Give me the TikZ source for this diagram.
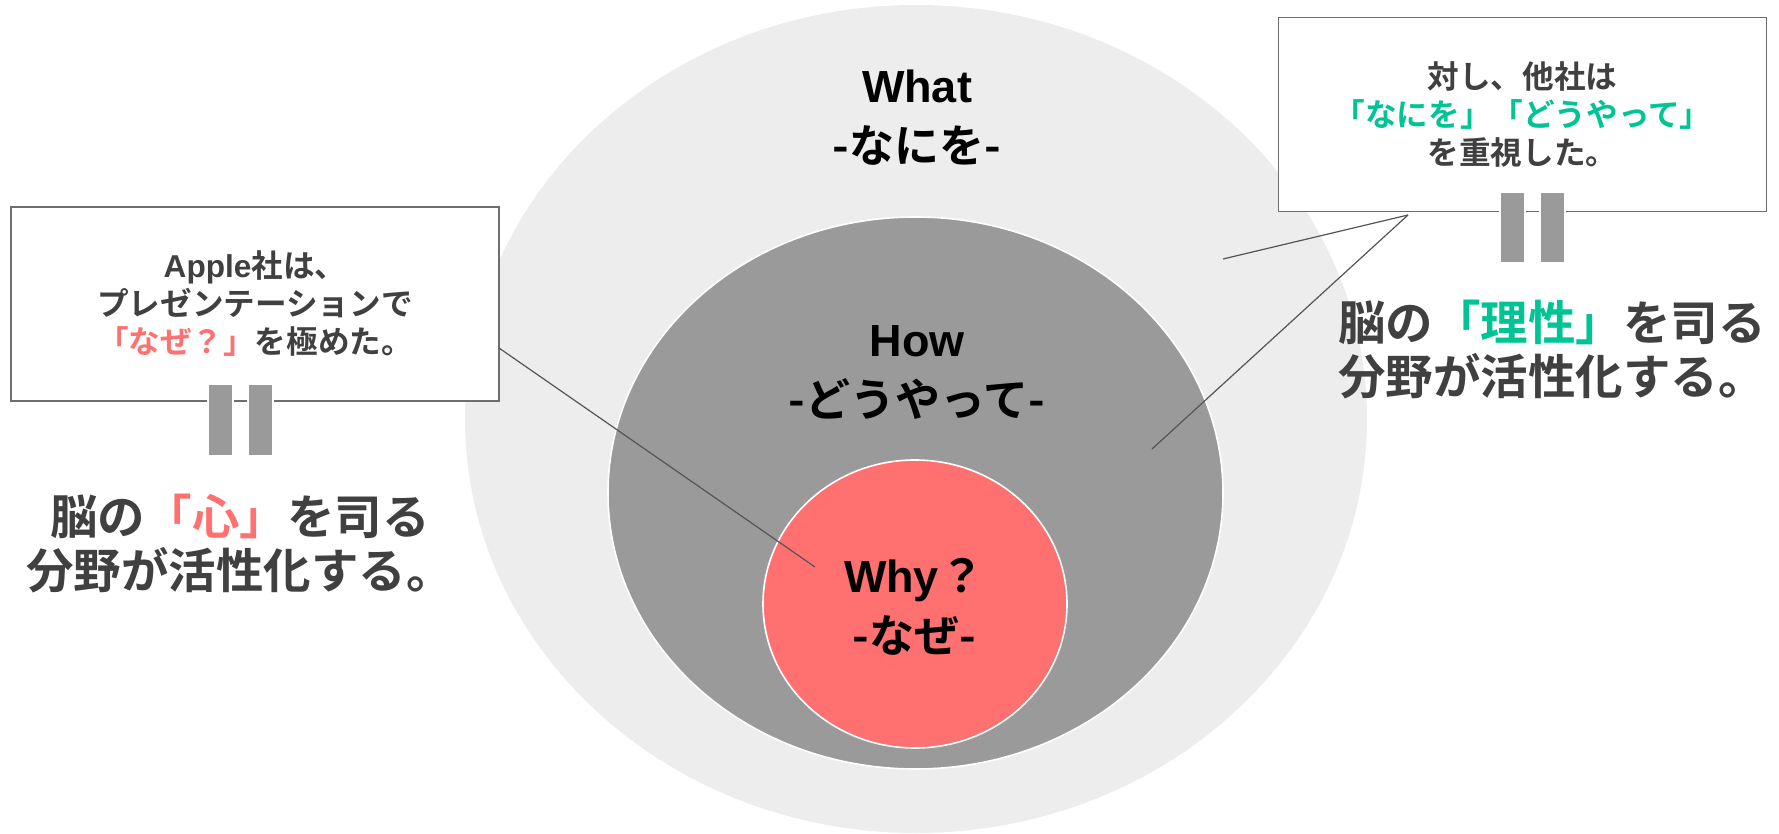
\documentclass[tikz,border=0pt]{standalone}
\usepackage{fontspec}
\usepackage{tikz}
\usetikzlibrary{positioning}
\newfontfamily\jpfont{Noto Sans CJK JP}[BoldFont={Noto Sans CJK JP Bold}]
\newfontfamily\latfont{Liberation Sans}
\definecolor{whatgray}{RGB}{237,237,237}
\definecolor{howgray}{RGB}{154,154,154}
\definecolor{whyred}{RGB}{255,112,112}
\definecolor{txtdark}{RGB}{64,64,64}
\definecolor{keygreen}{RGB}{0,196,148}
\definecolor{boxframe}{RGB}{110,110,110}
\definecolor{leadgray}{RGB}{85,85,85}
\newcommand{\lat}[1]{{\latfont\bfseries #1}}
\tikzset{
  circlabel/.style={align=center, text=black,
    font=\jpfont\bfseries\fontsize{22.5}{30}\selectfont},
  notebox/.style={rectangle, draw=boxframe, fill=white, line width=0.6pt,
    minimum width=244pt, minimum height=97pt, align=center, text=txtdark,
    font=\jpfont\bfseries\fontsize{15.8}{19}\selectfont},
  bigtext/.style={align=center, text=txtdark,
    font=\jpfont\bfseries\fontsize{23.75}{27}\selectfont},
  eqbar/.style={fill=howgray, draw=white, line width=1pt},
  leader/.style={draw=leadgray, line width=0.6pt}
}

\begin{document}
\begin{tikzpicture}[x=0.5pt, y=-0.5pt]
  \useasboundingbox (0,0) rectangle (1779,834);
  % nested circles
  \fill[whatgray] (916,419) ellipse [x radius=225.5pt, y radius=207pt];
  \filldraw[fill=howgray, draw=white, line width=0.8pt] (915.5,493) ellipse [x radius=153.75pt, y radius=138pt];
  \filldraw[fill=whyred, draw=white, line width=0.8pt] (915,604) ellipse [x radius=76pt, y radius=72pt];

  \node[circlabel] (what) at (917,118) {\lat{What}\\-なにを-};
  \node[circlabel] (how) at (917,373) {\lat{How}\\-どうやって-};
  \node[circlabel] (why) at (914,607) {\lat{Why}？\\-なぜ-};

  % notes
  \node[notebox] (lbox) at (255,304) {\lat{Apple}社は、\\プレゼンテーションで\\{\color{whyred}「なぜ？」}を極めた。};
  \node[notebox] (rbox) at (1522.5,114.5) {対し、他社は\\{\color{keygreen}「なにを」「どうやって」}\\を重視した。};

  \draw[eqbar] (208,384) rectangle (233,456);
  \draw[eqbar] (248,384) rectangle (273,456);
  \draw[eqbar] (1500,192) rectangle (1525,263);
  \draw[eqbar] (1540,192) rectangle (1565,263);

  \node[bigtext] (lbrain) at (240,544) {脳の{\color{whyred}「心」}を司る\\分野が活性化する。};
  \node[bigtext] (rbrain) at (1552,350) {脳の{\color{keygreen}「理性」}を司る\\分野が活性化する。};

  % leader lines
  \coordinate (ltip) at (499,348);
  \coordinate (whyend) at (815,567);
  \coordinate (rtip) at (1408,215);
  \coordinate (whatend) at (1223,259);
  \coordinate (howend) at (1152,449);
  \draw[leader] (ltip) -- (whyend);
  \draw[leader] (rtip) -- (whatend);
  \draw[leader] (rtip) -- (howend);
\end{tikzpicture}
\end{document}
